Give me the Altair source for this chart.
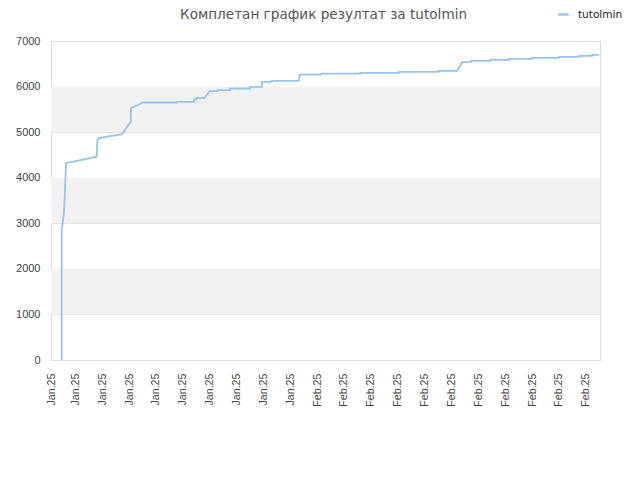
import altair as alt
import pandas as pd

# x in axis-tick units (one tick label per unit), value = score; linear path with corner points
xs = [0.49, 0.49, 0.53, 0.58, 0.61, 0.65, 1.79, 1.82, 1.88, 2.73, 3.06, 3.07, 3.51,
      4.77, 4.77, 5.42, 5.42, 5.52, 5.52, 5.83, 5.87, 6.01, 6.31, 6.31, 6.76, 6.76, 7.50, 7.50,
      7.95, 7.95, 8.31, 8.31, 9.32, 9.36, 10.15, 10.15, 11.60, 11.60, 13.05, 13.05, 14.51, 14.51,
      15.21, 15.40, 15.73, 15.73, 16.44, 16.44, 17.15, 17.15, 18.00, 18.00, 19.01, 19.01,
      19.75, 19.75, 20.24, 20.24, 20.49]
vals = [0, 2850, 3000, 3290, 3660, 4320, 4460, 4820, 4870, 4955, 5230, 5525, 5650,
        5650, 5665, 5665, 5717, 5717, 5752, 5752, 5800, 5899, 5899, 5921, 5921, 5958, 5958, 5993,
        5993, 6103, 6103, 6125, 6125, 6262, 6262, 6285, 6285, 6300, 6300, 6323, 6323, 6345,
        6345, 6535, 6540, 6563, 6563, 6585, 6585, 6607, 6607, 6630, 6630, 6650,
        6650, 6672, 6672, 6695, 6695]
series_name = "tutolmin"
x_domain = [0.093, 20.53]
tick_positions = [0.093] + list(range(1, 21))
band_start = [1000, 3000, 5000]
band_end = [2000, 4000, 6000]
y_ticks = [0, 1000, 2000, 3000, 4000, 5000, 6000, 7000]
title_text = "Комплетан график резултат за tutolmin"

W, H = 549, 319
FONT = "Liberation Sans"

df = pd.DataFrame({"x": xs, "v": vals, "s": [series_name] * len(xs), "o": list(range(len(xs)))})
bands = pd.DataFrame({"y": band_start, "y2": band_end})

band_layer = alt.Chart(bands).mark_rect(color="#f2f2f2").encode(
    x=alt.value(0), x2=alt.value(W),
    y=alt.Y("y:Q", scale=alt.Scale(domain=[0, 7000])),
    y2="y2:Q",
)

line = alt.Chart(df).mark_line(strokeWidth=1.8, clip=True).encode(
    x=alt.X("x:Q", scale=alt.Scale(domain=x_domain, nice=False, zero=False),
            axis=alt.Axis(values=tick_positions, labelExpr="datum.value < 9.5 ? 'Jan.25' : 'Feb.25'",
                          labelAngle=-90, grid=False, ticks=False, domain=False,
                          labelPadding=13, labelFontSize=10.7, labelColor="#444", labelFont=FONT,
                          title=None, labelOverlap=False, labelBound=False, labelFlush=False)),
    y=alt.Y("v:Q", scale=alt.Scale(domain=[0, 7000], nice=False),
            axis=alt.Axis(values=y_ticks, format="d", grid=True, gridColor="#dddddd", ticks=False,
                          domain=False, labelPadding=11, labelFontSize=11, labelColor="#444",
                          labelFont=FONT, title=None)),
    order="o:Q",
    color=alt.Color("s:N", scale=alt.Scale(range=["#96c3f0"]),
                    legend=alt.Legend(title=None, orient="none", legendX=506, legendY=-33,
                                      symbolType="stroke", symbolStrokeWidth=2.5, symbolSize=110,
                                      labelOffset=8, labelFontSize=10.5, labelFont="DejaVu Sans",
                                      labelColor="#222")),
)

chart = alt.layer(band_layer, line).properties(
    width=W, height=H,
    title=alt.TitleParams(title_text, fontSize=13.6, font="DejaVu Sans", fontWeight="normal",
                          color="#555", anchor="middle", offset=-14, dx=-2),
    autosize=alt.AutoSizeParams(type="none"),
    padding={"left": 43, "top": 33, "right": 32, "bottom": 100},
).configure_view(stroke="#dddddd", strokeWidth=1)

chart.save("out.html", embed_options={"renderer": "svg", "actions": False})
